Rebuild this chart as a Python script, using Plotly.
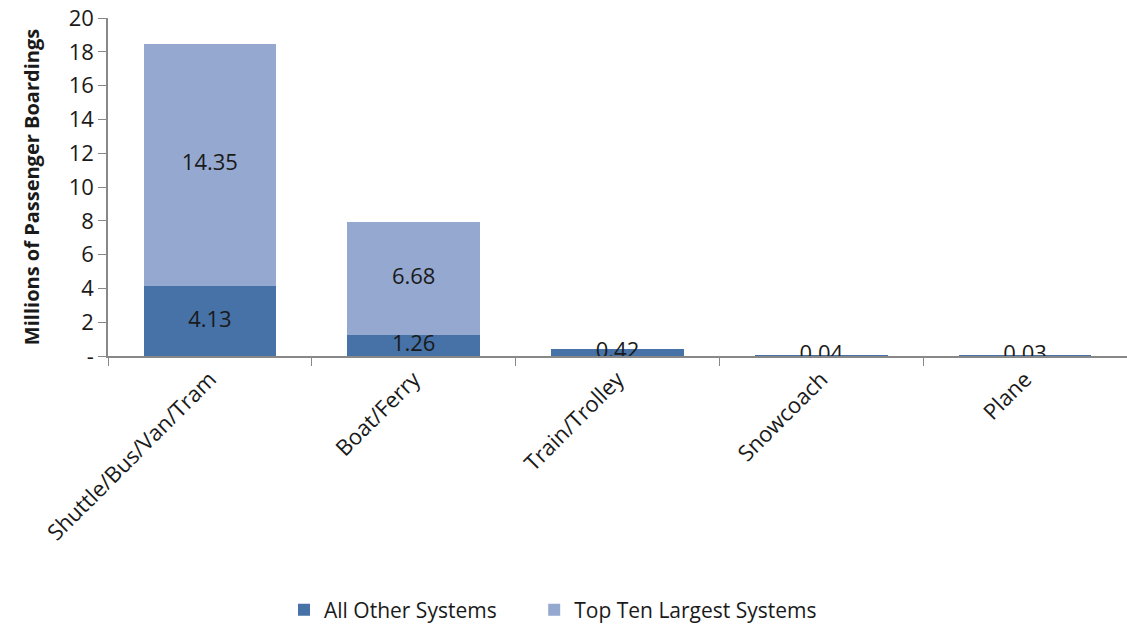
import plotly.graph_objects as go

categories = ["Shuttle/Bus/Van/Tram", "Boat/Ferry", "Train/Trolley", "Snowcoach", "Plane"]
all_other = [4.13, 1.26, 0.42, 0.04, 0.03]
top_ten = [14.35, 6.68, 0, 0, 0]
y_ticks = [0, 2, 4, 6, 8, 10, 12, 14, 16, 18, 20]
y_tick_labels = ["-", "2", "4", "6", "8", "10", "12", "14", "16", "18", "20"]

dark = "#4672A7"
light = "#95A9D0"
font = "Open Sans, Liberation Sans, sans-serif"

fig = go.Figure()
fig.add_trace(go.Bar(x=categories, y=all_other, name="All Other Systems",
                     marker=dict(color=dark, line=dict(width=0)), width=0.65,
                     legend="legend"))
fig.add_trace(go.Bar(x=categories, y=top_ten, name="Top Ten Largest Systems",
                     marker=dict(color=light, line=dict(width=0)), width=0.65,
                     legend="legend2"))

# data labels centered in each segment
lab_x, lab_y, lab_t = [], [], []
for c, a, t in zip(categories, all_other, top_ten):
    lab_x.append(c); lab_y.append(a / 2); lab_t.append(f"{a:.2f}")
    if t > 0:
        lab_x.append(c); lab_y.append(a + t / 2); lab_t.append(f"{t:.2f}")
fig.add_trace(go.Scatter(x=lab_x, y=lab_y, text=lab_t, mode="text", showlegend=False,
                         textfont=dict(size=22, color="#1a1a1a", family=font),
                         hoverinfo="skip"))

leg_common = dict(orientation="h", xref="container", yref="container",
                  xanchor="left", yanchor="middle", y=0.027,
                  font=dict(size=21), itemwidth=30, bgcolor="rgba(0,0,0,0)")

fig.update_layout(
    barmode="stack",
    width=1127, height=627,
    margin=dict(l=108, r=0, t=18, b=271),
    plot_bgcolor="white", paper_bgcolor="white",
    font=dict(family=font, size=21, color="#1a1a1a"),
    bargap=0.35,
    legend=dict(x=0.252, **leg_common),
    legend2=dict(x=0.474, **leg_common),
    xaxis=dict(showline=True, linecolor="#888888", linewidth=1.5, ticks="outside",
               tickson="boundaries", ticklen=8, tickcolor="#888888", tickangle=-45,
               tickfont=dict(size=22), range=[-0.5, 4.5]),
    yaxis=dict(range=[0, 20], tickvals=y_ticks, ticktext=y_tick_labels,
               showline=True, linecolor="#888888", linewidth=1.5, ticks="outside",
               ticklen=8, tickcolor="#888888", showgrid=False, zeroline=False,
               tickfont=dict(size=22),
               title=dict(text="<b>Millions of Passenger Boardings</b>",
                          font=dict(size=20), standoff=24)),
)

fig.write_html("out.html")
